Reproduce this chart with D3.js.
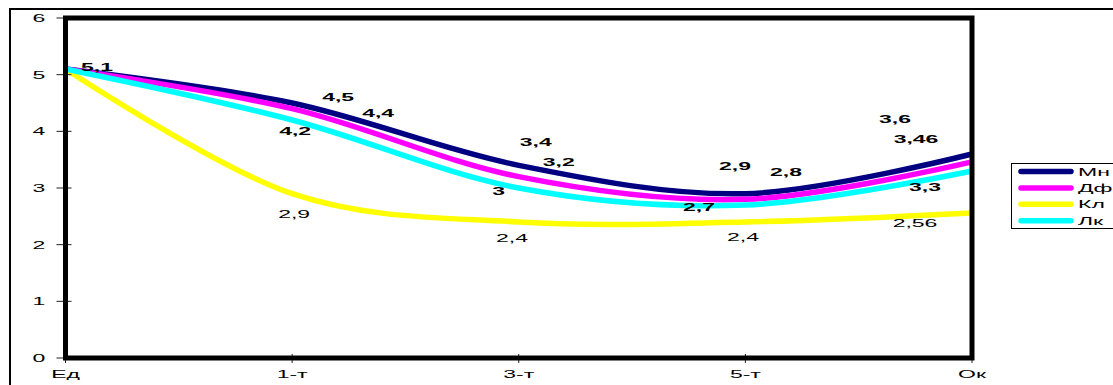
<!DOCTYPE html>
<html>
<head>
<meta charset="utf-8">
<script src="https://cdn.jsdelivr.net/npm/d3@7"></script>
<style>
  html, body { margin: 0; padding: 0; background: #fff; }
  svg { display: block; }
  text { font-family: "Liberation Sans", Arial, sans-serif; fill: #000; }
</style>
</head>
<body>
<svg id="chart" width="1113" height="385"></svg>
<script>
// ---- data ----
const categories = ["Ед", "1-т", "3-т", "5-т", "Ок"];
const seriesNames = ["Мн", "Дф", "Кл", "Лк"];
const mnValues = [5.1, 4.5, 3.4, 2.9, 3.6];
const dfValues = [5.1, 4.4, 3.2, 2.8, 3.46];
const klValues = [5.1, 2.9, 2.4, 2.4, 2.56];
const lkValues = [5.1, 4.2, 3, 2.7, 3.3];
const yTickValues = [0, 1, 2, 3, 4, 5, 6];

// ---- layout / style ----
const seriesColors = ["#000080", "#ff00ff", "#ffff00", "#00ffff"];
const labelBold = [true, true, false, true];
// hand-placed data label offsets (dx, dy) from each point; null = no label
const labelOffsets = [
  [[31.5, -2], [46, -6.3], [17, -23.6], [-10.4, -28], [-77, -34.7]],
  [null, [86, 4], [40, -15], [40.6, -27.6], [-56, -22.7]],
  [null, [2, 20.6], [-6.7, 15.7], [-2.4, 14.7], [-57, 10.4]],
  [null, [3, 11], [-20, 3], [-46.4, 1.7], [-47, 16.3]]
];
const fontSize = 11.5;
const stretchX = 2.0;

const allValues = [mnValues, dfValues, klValues, lkValues];
const fmt = v => String(v).replace(".", ",");

const svg = d3.select("#chart");
const plot = { left: 65.5, right: 972, top: 18, bottom: 358 };

const x = d3.scalePoint().domain(categories).range([plot.left, plot.right]);
const y = d3.scaleLinear().domain([0, 6]).range([plot.bottom, plot.top]);

// outer chart frame (continues past right and bottom edges)
svg.append("rect")
  .attr("x", 10).attr("y", 9)
  .attr("width", 1120).attr("height", 400)
  .attr("fill", "none").attr("stroke", "#000").attr("stroke-width", 2);

function stretchedText(g, tx, ty, str, opts = {}) {
  return g.append("text")
    .attr("transform", `translate(${tx},${ty}) scale(${stretchX},1)`)
    .attr("text-anchor", opts.anchor || "middle")
    .attr("dy", "0.35em")
    .attr("font-size", fontSize)
    .attr("font-weight", opts.bold ? "bold" : "normal")
    .text(str);
}

// series lines
const line = d3.line()
  .x((d, i) => x(categories[i]))
  .y(d => y(d))
  .curve(d3.curveCardinal.tension(0));

const linesG = svg.append("g");
allValues.forEach((vals, s) => {
  linesG.append("path")
    .datum(vals)
    .attr("d", line)
    .attr("fill", "none")
    .attr("stroke", seriesColors[s])
    .attr("stroke-width", 5.5)
    .attr("stroke-linejoin", "round");
});

// y axis ticks + labels
const yAxisG = svg.append("g");
yTickValues.forEach(t => {
  yAxisG.append("line")
    .attr("x1", plot.left - 9).attr("x2", plot.left + 6)
    .attr("y1", y(t)).attr("y2", y(t))
    .attr("stroke", "#222").attr("stroke-width", 1);
  stretchedText(yAxisG, 39, y(t), String(t));
});

// x axis ticks + labels
const xAxisG = svg.append("g");
categories.forEach(c => {
  xAxisG.append("line")
    .attr("x1", x(c)).attr("x2", x(c))
    .attr("y1", plot.bottom - 4).attr("y2", plot.bottom + 5)
    .attr("stroke", "#222").attr("stroke-width", 1);
  stretchedText(xAxisG, x(c), 373.5, c);
});

// plot area frame
svg.append("rect")
  .attr("x", plot.left).attr("y", plot.top)
  .attr("width", plot.right - plot.left).attr("height", plot.bottom - plot.top)
  .attr("fill", "none").attr("stroke", "#000").attr("stroke-width", 5);

// data labels
const labelsG = svg.append("g");
allValues.forEach((vals, s) => {
  vals.forEach((v, i) => {
    const off = labelOffsets[s][i];
    if (!off) return;
    stretchedText(labelsG, x(categories[i]) + off[0], y(v) + off[1], fmt(v), { bold: labelBold[s] });
  });
});

// legend
const legend = svg.append("g");
legend.append("rect")
  .attr("x", 1011.5).attr("y", 163.5)
  .attr("width", 140).attr("height", 65)
  .attr("fill", "#fff").attr("stroke", "#000").attr("stroke-width", 1);
seriesNames.forEach((name, s) => {
  const ly = 171.5 + s * 16.4;
  legend.append("line")
    .attr("x1", 1021).attr("x2", 1071)
    .attr("y1", ly).attr("y2", ly)
    .attr("stroke", seriesColors[s]).attr("stroke-width", 5.5)
    .attr("stroke-linecap", "round");
  stretchedText(legend, 1078, ly, name, { anchor: "start" });
});
</script>
</body>
</html>
